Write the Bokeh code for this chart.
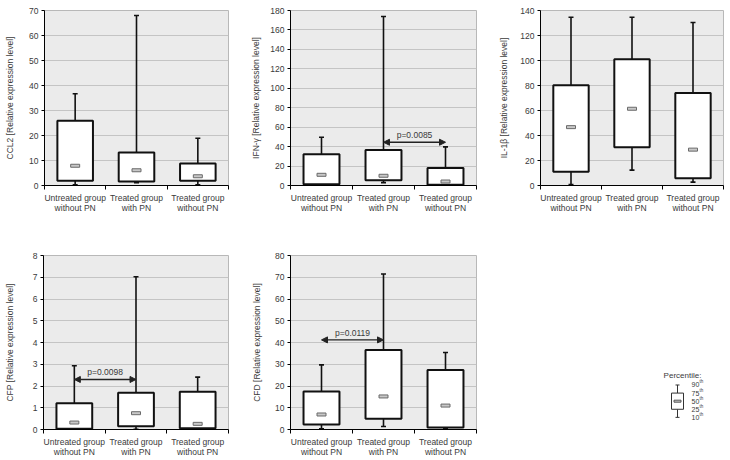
from bokeh.plotting import figure
from bokeh.layouts import row, column
from bokeh.models import Range1d, FixedTicker, Arrow, NormalHead, ColumnDataSource
from bokeh.core.properties import value
from bokeh.embed import file_html
from bokeh.resources import INLINE

FONT = "Liberation Sans"

groups = ["Untreated group\nwithout PN", "Treated group\nwith PN", "Treated group\nwithout PN"]
group_pos = [0.5, 1.5, 2.5]
boundaries = [0, 1, 2, 3]

# CCL2
ccl2_p10 = [0.3, 1.1, 0.3]
ccl2_q1 = [1.9, 1.6, 1.9]
ccl2_med = [7.9, 6.1, 3.7]
ccl2_q3 = [25.9, 13.2, 8.8]
ccl2_p90 = [36.7, 68.0, 18.9]
ccl2_ticks = [0, 10, 20, 30, 40, 50, 60, 70]

# IFN-gamma
ifn_p10 = [0.5, 3.0, 0.4]
ifn_q1 = [1.3, 5.5, 0.7]
ifn_med = [11.0, 10.0, 4.1]
ifn_q3 = [32.2, 36.4, 18.1]
ifn_p90 = [49.7, 173.8, 39.7]
ifn_ticks = [0, 20, 40, 60, 80, 100, 120, 140, 160, 180]
ifn_cmp = (1, 2, 44.5, "p=0.0085")

# IL-1beta
il1_p10 = [0.8, 12.3, 2.7]
il1_q1 = [11.0, 30.6, 5.9]
il1_med = [46.7, 61.4, 28.7]
il1_q3 = [80.2, 101.0, 74.0]
il1_p90 = [134.6, 134.6, 130.4]
il1_ticks = [0, 20, 40, 60, 80, 100, 120, 140]

# CFP
cfp_p10 = [0.01, 0.01, 0.02]
cfp_q1 = [0.03, 0.15, 0.06]
cfp_med = [0.32, 0.75, 0.26]
cfp_q3 = [1.21, 1.69, 1.73]
cfp_p90 = [2.93, 7.02, 2.41]
cfp_ticks = [0, 1, 2, 3, 4, 5, 6, 7, 8]
cfp_cmp = (0, 1, 2.3, "p=0.0098")

# CFD
cfd_p10 = [0.3, 1.4, 0.5]
cfd_q1 = [2.3, 4.9, 0.9]
cfd_med = [6.9, 15.2, 11.0]
cfd_q3 = [17.5, 36.5, 27.3]
cfd_p90 = [29.7, 71.5, 35.4]
cfd_ticks = [0, 10, 20, 30, 40, 50, 60, 70, 80]
cfd_cmp = (0, 1, 41.2, "p=0.0119")

legend_pct = ["10", "25", "50", "75", "90"]
legend_rank = [0, 1, 2, 3, 4]

TXT = "#3a3a3a"
FS = "8.5px"


def panel(ylabel, ticks, p10, q1, med, q3, p90, width, height, bl, br, bt, bb, lstand, cmp=None):
    p = figure(width=width, height=height, x_range=Range1d(0, 3),
               y_range=Range1d(ticks[0], ticks[-1]),
               output_backend="svg", toolbar_location=None,
               min_border_left=bl, min_border_right=br,
               min_border_top=bt, min_border_bottom=bb)
    p.background_fill_color = "#ebebeb"
    p.border_fill_color = "white"
    p.outline_line_color = "#b8b8b8"
    p.outline_line_width = 1

    p.xgrid.grid_line_color = None
    p.ygrid.ticker = FixedTicker(ticks=ticks)
    p.ygrid.grid_line_color = "#c4c4c4"
    p.ygrid.grid_line_width = 1

    xa = p.xaxis[0]
    xa.ticker = FixedTicker(ticks=group_pos, minor_ticks=boundaries)
    xa.major_label_overrides = {gp: g for gp, g in zip(group_pos, groups)}
    xa.major_tick_out = 0
    xa.major_tick_in = 0
    xa.minor_tick_out = 4
    xa.minor_tick_in = 0
    xa.minor_tick_line_color = "black"
    xa.axis_line_color = "black"
    xa.major_label_standoff = 3
    xa.major_label_text_font = FONT
    xa.major_label_text_font_size = FS
    xa.major_label_text_color = TXT
    xa.major_label_text_line_height = 1.0

    ya = p.yaxis[0]
    ya.ticker = FixedTicker(ticks=ticks)
    ya.major_tick_out = 3
    ya.major_tick_in = 0
    ya.minor_tick_line_color = None
    ya.axis_line_color = "black"
    ya.major_tick_line_color = "black"
    ya.major_label_standoff = 3
    ya.major_label_text_font = FONT
    ya.major_label_text_font_size = FS
    ya.major_label_text_color = TXT
    ya.axis_label = ylabel
    ya.axis_label_text_font = FONT
    ya.axis_label_text_font_size = FS
    ya.axis_label_text_font_style = "normal"
    ya.axis_label_text_color = TXT
    ya.axis_label_standoff = lstand

    src = ColumnDataSource(dict(x=group_pos, p10=p10, q1=q1, med=med, q3=q3, p90=p90))
    p.segment(x0="x", y0="q3", x1="x", y1="p90", source=src, line_color="#111111", line_width=1.6)
    p.segment(x0="x", y0="p10", x1="x", y1="q1", source=src, line_color="#111111", line_width=1.6)
    p.scatter(x="x", y="p90", marker="dash", size=5, line_color="#111111", line_width=1.6, source=src)
    p.scatter(x="x", y="p10", marker="dash", size=5, line_color="#111111", line_width=1.6, source=src)
    p.vbar(x="x", width=0.58, bottom="q1", top="q3", source=src,
           fill_color="white", line_color="#111111", line_width=2)
    p.rect(x="x", y="med", width=9, height=3, width_units="screen", height_units="screen",
           source=src, fill_color="#c8c8c8", line_color="#6a6a6a", line_width=1)

    if cmp is not None:
        i0, i1, yv, txt = cmp
        x0, x1 = group_pos[i0], group_pos[i1]
        p.add_layout(Arrow(x_start=x0, y_start=yv, x_end=x1, y_end=yv,
                           start=NormalHead(size=6, fill_color="#222222", line_color="#222222"),
                           end=NormalHead(size=6, fill_color="#222222", line_color="#222222"),
                           line_color="#222222", line_width=1.3))
        p.text(x=[(x0 + x1) / 2], y=[yv], text=[txt], text_align="center",
               text_baseline="bottom", y_offset=-2, text_font=value(FONT),
               text_font_size=FS, text_color=TXT)
    return p


p1 = panel("CCL2 [Relative expression level]", ccl2_ticks, ccl2_p10, ccl2_q1, ccl2_med, ccl2_q3, ccl2_p90,
           248, 230, 44, 20, 10, 45, 11)
p2 = panel("IFN-\u03b3 [Relative expression level]", ifn_ticks, ifn_p10, ifn_q1, ifn_med, ifn_q3, ifn_p90,
           248, 230, 42, 20, 10, 45, 6, ifn_cmp)
p3 = panel("IL-1\u03b2 [Relative expression level]", il1_ticks, il1_p10, il1_q1, il1_med, il1_q3, il1_p90,
           232, 230, 42, 5, 10, 45, 8)
p4 = panel("CFP [Relative expression level]", cfp_ticks, cfp_p10, cfp_q1, cfp_med, cfp_q3, cfp_p90,
           248, 230, 43, 20, 25, 31, 15, cfp_cmp)
p5 = panel("CFD [Relative expression level]", cfd_ticks, cfd_p10, cfd_q1, cfd_med, cfd_q3, cfd_p90,
           248, 230, 42, 20, 25, 31, 10, cfd_cmp)

# legend panel (percentile key): its frame is aligned with the panels around it, 8px per rank
lg = figure(width=232, height=230, x_range=Range1d(0, 185), y_range=Range1d(-1.5, 20),
            output_backend="svg", toolbar_location=None,
            x_axis_location=None, y_axis_location=None,
            min_border_left=42, min_border_right=5, min_border_top=25, min_border_bottom=31)
lg.grid.grid_line_color = None
lg.outline_line_color = None
lg.background_fill_color = "white"
bx = 139
lg.segment(x0=[bx, bx], y0=[legend_rank[0], legend_rank[3]], x1=[bx, bx], y1=[legend_rank[1], legend_rank[4]],
           line_color="#333333", line_width=1)
lg.scatter(x=[bx, bx], y=[legend_rank[0], legend_rank[4]], marker="dash", size=4, line_color="#333333", line_width=1)
lg.quad(left=[bx - 6], right=[bx + 6], bottom=[legend_rank[1]], top=[legend_rank[3]],
        fill_color="white", line_color="#333333", line_width=1)
lg.rect(x=[bx], y=[legend_rank[2]], width=7, height=2, width_units="screen", height_units="screen",
        fill_color="#c8c8c8", line_color="#555555", line_width=1)
lg.text(x=[bx + 5], y=[legend_rank[4] + 0.65], text=["Percentile:"], text_align="center",
        text_baseline="bottom", text_font=value(FONT), text_font_size="8px", text_color=TXT)
lg.text(x=[bx + 14] * 5, y=legend_rank, text=legend_pct, text_align="left", text_baseline="middle",
        text_font=value(FONT), text_font_size="7px", text_color=TXT)
lg.text(x=[bx + 22] * 5, y=legend_rank, text=["th"] * 5, text_align="left", text_baseline="middle",
        y_offset=-3, text_font=value(FONT), text_font_size="4.5px", text_color=TXT)

layout = column(row(p1, p2, p3, spacing=0), row(p4, p5, lg, spacing=0), spacing=0)

open("out.html", "w").write(file_html(layout, INLINE))
